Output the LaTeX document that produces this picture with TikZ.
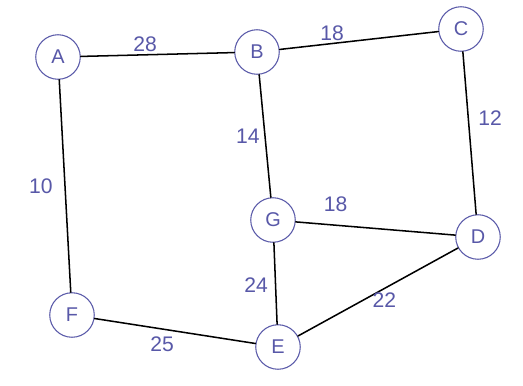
\documentclass[tikz,border=0pt]{standalone}
\usepackage{fontspec}
\setmainfont{Liberation Sans}

\begin{document}
\begin{tikzpicture}[x=0.03cm, y=-0.03cm, line cap=round, line join=round]
  \definecolor{ink}{RGB}{88,88,168}
  \tikzset{
    vertex/.style={circle, draw=ink, line width=0.9pt, text=ink, inner sep=0pt,
      minimum size=38, font=\fontsize{17}{19}\selectfont},
    road/.style={line width=1.3pt, draw=black},
    cost/.style={text=ink, font=\fontsize{18}{20}\selectfont, inner sep=2pt}
  }

  % khung ảnh
  \useasboundingbox[fill=white] (0, 0) rectangle (523, 385);

  % các đỉnh
  \node[vertex] (A) at (58, 57) {A};
  \node[vertex] (B) at (257, 52) {B};
  \node[vertex] (C) at (461, 29) {C};
  \node[vertex] (D) at (478, 237) {D};
  \node[vertex] (G) at (273, 220) {G};
  \node[vertex] (E) at (278, 347) {E};
  \node[vertex] (F) at (72, 315) {F};

  % các cạnh có trọng số
  \draw[road] (A) -- node[cost, above, pos=0.42] {28} (B);
  \draw[road] (B) -- node[cost, above, pos=0.33] {18} (C);
  \draw[road] (C) -- node[cost, right=6pt, pos=0.41] {12} (D);
  \draw[road] (B) -- node[cost, left=2pt, pos=0.5] {14} (G);
  \draw[road] (A) -- node[cost, left=8pt, pos=0.5] {10} (F);
  \draw[road] (G) -- node[cost, above=9pt, pos=0.25] {18} (D);
  \draw[road] (G) -- node[cost, left=4pt, pos=0.52] {24} (E);
  \draw[road] (E) -- node[cost, below=1pt, pos=0.54] {22} (D);
  \draw[road] (F) -- node[cost, below=4pt, pos=0.42] {25} (E);

\end{tikzpicture}
\end{document}
